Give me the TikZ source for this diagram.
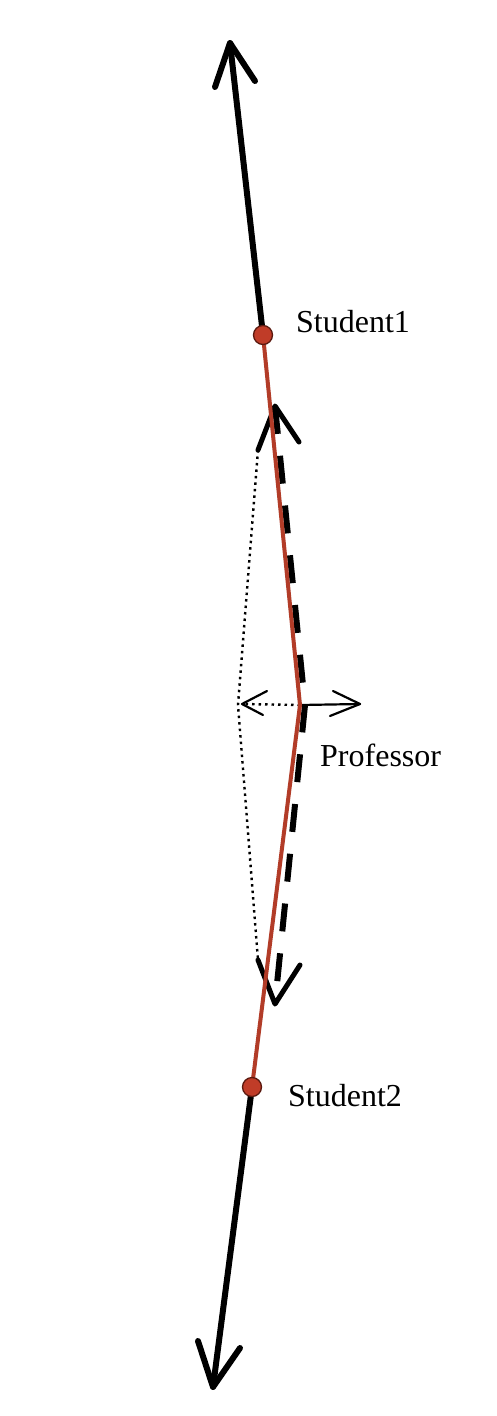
\documentclass[tikz,border=0pt]{standalone}
\usepackage{fontspec}
\setmainfont{Liberation Serif}
\begin{document}
\begin{tikzpicture}[x=1pt,y=-1pt,
  blackline/.style={line width=6pt,black,line cap=round,line join=round},
  redline/.style={line width=4pt,color=linered,line cap=round},
  dashline/.style={line width=6pt,black,dash pattern=on 28pt off 22pt},
  dotline/.style={line width=2.4pt,black,dash pattern=on 2.5pt off 4pt},
  thinarrow/.style={line width=2.2pt,black,line cap=round,line join=round},
  studentdot/.style={circle,draw=dotedge,fill=dotfill,line width=1.3pt,minimum size=19pt,inner sep=0pt},
  lbl/.style={font=\fontsize{32}{32}\selectfont,anchor=west,inner sep=0pt}]
\definecolor{linered}{RGB}{178,60,40}
\definecolor{dotfill}{RGB}{192,60,40}
\definecolor{dotedge}{RGB}{90,25,15}
\useasboundingbox[fill=white] (0,0) rectangle (496,1416);
% key points
\coordinate (s1) at (263,335);
\coordinate (p) at (300,705);
\coordinate (s2) at (252,1087);
\coordinate (toptip) at (230,43);
\coordinate (topl) at (215,87);
\coordinate (topr) at (255,81);
\coordinate (bottip) at (213,1387);
\coordinate (botl) at (198,1341);
\coordinate (botr) at (240,1348);
\coordinate (dtop) at (275,406);
\coordinate (dtopl) at (258,450);
\coordinate (dtopr) at (299,442);
\coordinate (dmid) at (305,705);
\coordinate (dbot) at (275,1004);
\coordinate (dbotl) at (258,960);
\coordinate (dbotr) at (300,965);
\coordinate (dotmid) at (238,705);
\coordinate (ltip) at (242,704);
\coordinate (lup) at (267,691);
\coordinate (llo) at (263,715);
\coordinate (rtip) at (360,704);
\coordinate (rup) at (333,691);
\coordinate (rlo) at (330,716);
% black outer lines
\draw[blackline] (s1) -- (toptip);
\draw[blackline] (topl) -- (toptip) -- (topr);
\draw[blackline] (s2) -- (bottip);
\draw[blackline] (botl) -- (bottip) -- (botr);
% dotted line
\draw[dotline] (dtopl) -- (dotmid) -- (dbotl);
% dashed line
\draw[dashline] (dtop) -- (dmid) -- (dbot);
\draw[blackline,line width=5pt] (dtopl) -- (dtop) -- (dtopr);
\draw[blackline,line width=5pt] (dbotl) -- (dbot) -- (dbotr);
% horizontal arrows
\draw[dotline] (p) -- (ltip);
\draw[thinarrow] (lup) -- (ltip) -- (llo);
\draw[thinarrow] (p) -- (rtip);
\draw[thinarrow] (rup) -- (rtip) -- (rlo);
% red line
\draw[redline] (s1) -- (p) -- (s2);
% dots
\node[studentdot] (n1) at (s1) {};
\node[studentdot] (n2) at (s2) {};
% labels
\node[lbl] (t1) at (296,322) {Student1};
\node[lbl] (tp) at (320,755) {Professor};
\node[lbl] (t2) at (288,1096) {Student2};
\end{tikzpicture}
\end{document}
